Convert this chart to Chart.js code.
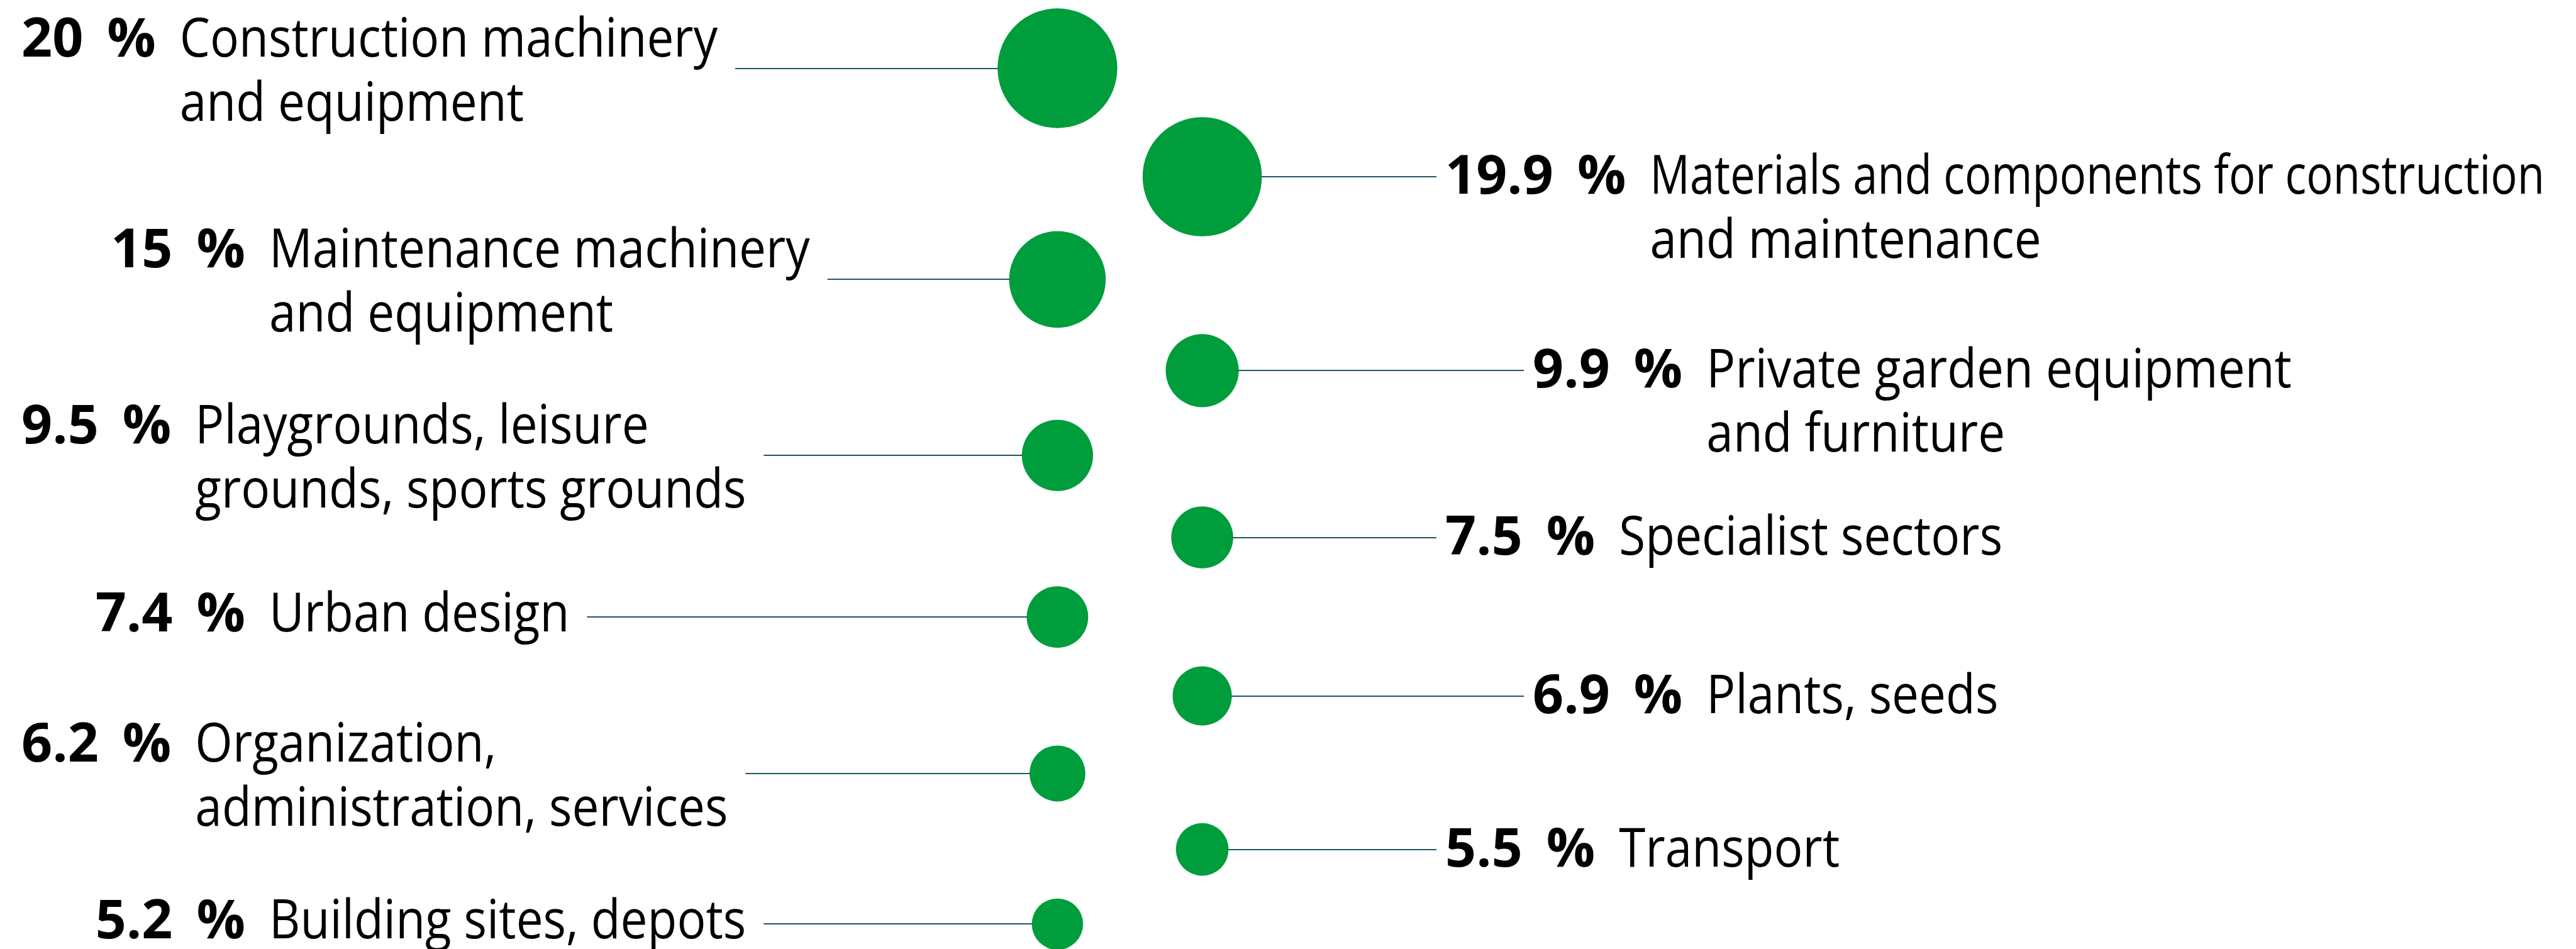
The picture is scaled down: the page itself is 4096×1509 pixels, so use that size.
<!DOCTYPE html>
<html>
<head>
<meta charset="utf-8">
<title>Market sectors</title>
<script src="https://cdn.jsdelivr.net/npm/chart.js@4.4.1/dist/chart.umd.min.js"></script>
<style>
  html, body { margin: 0; padding: 0; background: #fff; }
  canvas { display: block; }
</style>
</head>
<body>
<canvas id="bubbles" width="4096" height="1509"></canvas>
<script>
// shares in percent, largest first; they alternate left / right column
const values = [20, 19.9, 15, 9.9, 9.5, 7.5, 7.4, 6.9, 6.2, 5.5, 5.2];
const categories = [
  "Construction machinery\nand equipment",
  "Materials and components for construction\nand maintenance",
  "Maintenance machinery\nand equipment",
  "Private garden equipment\nand furniture",
  "Playgrounds, leisure\ngrounds, sports grounds",
  "Specialist sectors",
  "Urban design",
  "Plants, seeds",
  "Organization,\nadministration, services",
  "Transport",
  "Building sites, depots",
];

const W = 4096, H = 1509;
const GREEN = "#009d3c";
const LEADER = "#1f5862";
const FONT = "'Open Sans', 'Noto Sans', sans-serif";
const SIZE = 86;
const SQUEEZE = 0.89; // the original body text is a condensed face
const GAP = 38;

function radiusFor(v) {
  return 21.7 + 3.675 * v;
}

// stack bubbles top to bottom in value order with an even gap between them
function stackRows() {
  const ys = [];
  let y = 108.5;
  values.forEach((v, i) => {
    if (i > 0) y += (radiusFor(values[i - 1]) + radiusFor(v)) / 2 + 77.5;
    ys.push(y);
  });
  return ys;
}

const rows = stackRows();
const points = values.map((v, i) => ({ x: i % 2, y: rows[i], r: radiusFor(v) }));

const labelPlugin = {
  id: "sectorLabels",
  afterDatasetsDraw(chart) {
    const ctx = chart.ctx;
    const meta = chart.getDatasetMeta(0);
    const bold = `700 ${SIZE}px ${FONT}`;
    const regular = `400 ${SIZE}px ${FONT}`;

    meta.data.forEach((pt, i) => {
      const left = i % 2 === 0;
      const slot = Math.floor(i / 2) % 2; // labels are staggered in two rows per side
      const r = pt.options.radius;
      const y = Math.round(pt.y);

      ctx.save();
      ctx.font = bold;
      const num = String(values[i]);
      const wNum = ctx.measureText(num).width;
      const wPct = ctx.measureText("%").width;
      ctx.font = regular;
      const lines = categories[i].split("\n");
      const room = (x) => (W - 50 - x) / SQUEEZE;

      let numX, catX;
      if (left && slot === 1) {
        catX = 428;
        numX = catX - GAP - wPct - GAP - wNum;
      } else {
        numX = left ? 34 : (slot === 0 ? 2298 : 2437);
        catX = numX + wNum + GAP + wPct + GAP;
      }
      const widths = lines.map(s => Math.min(ctx.measureText(s).width, room(catX)) * SQUEEZE);

      let base;
      if (left) base = lines.length > 1 ? [y - 19, y + 83] : [y + 23];
      else base = [y + 27, y + 129];

      // leader line
      ctx.strokeStyle = LEADER;
      ctx.lineWidth = 2;
      ctx.beginPath();
      if (left) {
        ctx.moveTo(catX + Math.max(...widths) + 28, y);
        ctx.lineTo(pt.x - r + 1, y);
      } else {
        ctx.moveTo(pt.x + r - 1, y);
        ctx.lineTo(numX - 14, y);
      }
      ctx.stroke();

      // text
      ctx.fillStyle = "#000";
      ctx.textAlign = "left";
      ctx.textBaseline = "alphabetic";
      ctx.font = bold;
      ctx.fillText(num, numX, base[0]);
      ctx.fillText("%", numX + wNum + GAP, base[0]);
      ctx.font = regular;
      lines.forEach((s, k) => {
        ctx.save();
        ctx.translate(catX, base[k]);
        ctx.scale(SQUEEZE, 1);
        ctx.fillText(s, 0, 0, room(catX));
        ctx.restore();
      });
      ctx.restore();
    });
  }
};

// column 0 sits at x=1681px, column 1 at x=1912px
const colStep = 230.2;
const colLeft = 1681.4;

new Chart(document.getElementById("bubbles"), {
  type: "bubble",
  data: {
    datasets: [{
      data: points,
      backgroundColor: GREEN,
      borderWidth: 0,
      hoverBorderWidth: 0,
      hoverRadius: 0,
      clip: false,
    }]
  },
  options: {
    responsive: false,
    animation: false,
    events: [],
    layout: { padding: 0, autoPadding: false },
    plugins: { legend: { display: false }, tooltip: { enabled: false } },
    scales: {
      x: { type: "linear", display: false, min: -colLeft / colStep, max: (W - colLeft) / colStep },
      y: { type: "linear", display: false, min: 0, max: H, reverse: true },
    }
  },
  plugins: [labelPlugin]
});
</script>
</body>
</html>
